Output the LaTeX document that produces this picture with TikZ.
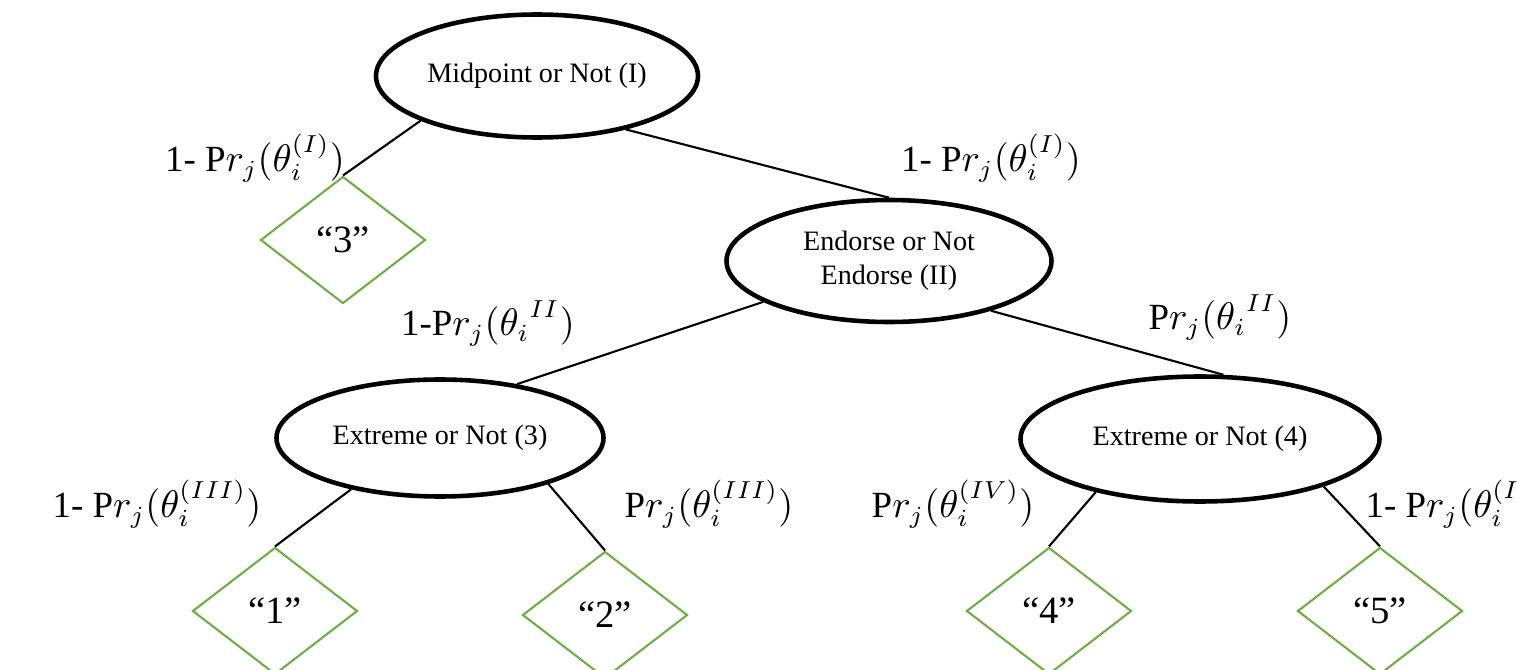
\documentclass[tikz,border=0pt]{standalone}
\usepackage{fontspec}
\setmainfont{Liberation Serif}
\usepackage{tikz}
\usetikzlibrary{shapes.geometric}
\usepackage{xcolor}
\definecolor{leafgreen}{HTML}{70AD47}

\begin{document}
\begin{tikzpicture}[
            choice/.style={draw, ellipse, line width=1.3pt, inner sep=0pt, font=\fontsize{8}{9.6}\selectfont, align=center},
            leaf/.style={draw=leafgreen, diamond, line width=0.6pt, minimum width=1.65cm, minimum height=1.27cm, inner sep=0pt, font=\fontsize{11}{13}\selectfont},
            prob/.style={font=\fontsize{10.5}{12.5}\selectfont, anchor=base, inner sep=0pt},
            branch/.style={line width=0.6pt}
        ]
            \useasboundingbox (0,0) rectangle (15.17,6.69);
            \clip (0,0) rectangle (15.17,6.69);

            % Decision nodes
            \node[choice, minimum width=3.22cm, minimum height=1.23cm] (mid) at (5.37,5.93) {Midpoint or Not (I)};
            \node[choice, minimum width=3.25cm, minimum height=1.22cm] (endorse) at (8.89,4.08) {Endorse or Not\\Endorse (II)};
            \node[choice, minimum width=3.27cm, minimum height=1.17cm] (ext3) at (4.40,2.31) {Extreme or Not (3)};
            \node[choice, minimum width=3.59cm, minimum height=1.25cm] (ext4) at (12.00,2.30) {Extreme or Not (4)};

            % Outcomes
            \node[leaf] (out3) at (3.43,4.29) {“3”};
            \node[leaf] (out1) at (2.75,0.58) {“1”};
            \node[leaf] (out2) at (6.05,0.54) {“2”};
            \node[leaf] (out4) at (10.49,0.58) {“4”};
            \node[leaf] (out5) at (13.80,0.58) {“5”};

            % Branch probabilities
            \node[prob] (p1) at (2.55,4.97) {1- P$r_j(\theta_i^{(I)})$};
            \node[prob] (p2) at (9.91,4.97) {1- P$r_j(\theta_i^{(I)})$};
            \node[prob] (p3) at (4.88,3.33) {1-P$r_j({\theta_i}^{II})$};
            \node[prob] (p4) at (12.20,3.39) {P$r_j({\theta_i}^{II})$};
            \node[prob] (p5) at (1.57,1.51) {1- P$r_j(\theta_i^{(III)})$};
            \node[prob] (p6) at (7.09,1.51) {P$r_j(\theta_i^{(III)})$};
            \node[prob] (p7) at (9.53,1.51) {P$r_j(\theta_i^{(IV)})$};
            \node[prob, anchor=base west] (p8) at (13.65,1.51) {1- P$r_j(\theta_i^{(IV)})$};

            % Branches
            \draw[branch] (mid.201) -- (out3.north);
            \draw[branch] (mid.329) -- (endorse.north);
            \draw[branch] (endorse.198) -- (ext3.35);
            \draw[branch] (endorse.334) -- (ext4.70);
            \draw[branch] (ext3.210) -- (out1.north);
            \draw[branch] (ext3.337) -- (out2.north);
            \draw[branch] (ext4.207) -- (out4.north);
            \draw[branch] (ext4.339) -- (out5.north);

        \end{tikzpicture}
\end{document}
